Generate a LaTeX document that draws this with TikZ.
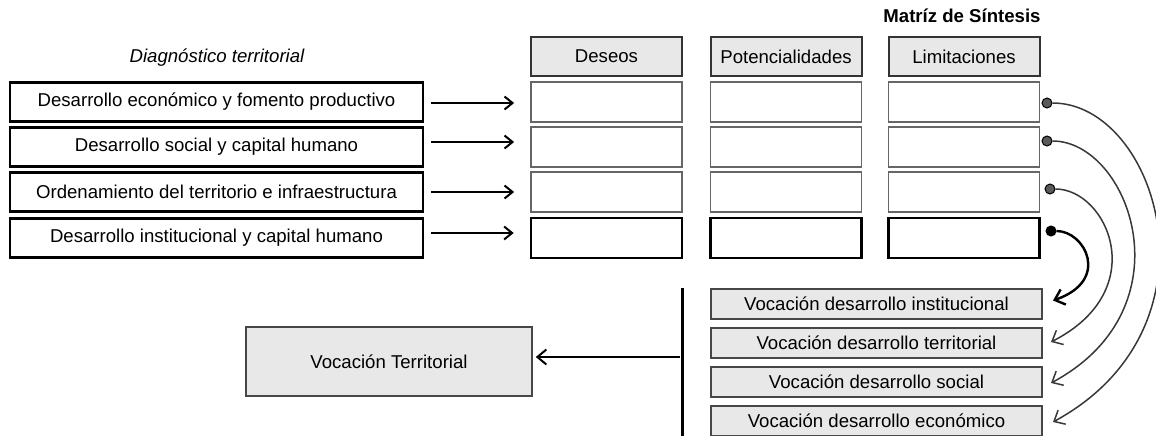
\documentclass[tikz,border=0pt]{standalone}
\usepackage{fontspec}
\setmainfont{Liberation Sans}
\usetikzlibrary{arrows.meta}
\begin{document}
\begin{tikzpicture}[x=1pt,y=-1pt,
  txt/.style={font=\fontsize{18.6}{22}\selectfont},
  leftbox/.style={draw=black, line width=2.6pt, minimum width=413pt, minimum height=39pt, inner sep=0pt, txt},
  headbox/.style={draw=black!80, fill=black!9, line width=2pt, minimum width=151pt, minimum height=39pt, inner sep=0pt, txt},
  cellbox/.style={draw=black!60, line width=1.8pt, fill=white, minimum width=151pt, minimum height=40pt, inner sep=0pt},
  lastcell/.style={draw=black, line width=2.6pt, fill=white, minimum width=151pt, minimum height=40pt, inner sep=0pt},
  vocbox/.style={draw=black!72, fill=black!9, line width=2pt, minimum width=331pt, minimum height=30pt, inner sep=0pt, txt},
  dot/.style={circle, draw=black, fill=black!65, line width=1pt, minimum size=10pt, inner sep=0pt},
  feed/.style={line width=2pt, -{Straight Barb[length=8pt,width=13pt,line width=2pt]}},
  link/.style={draw=black!78, line width=1.5pt, -{Straight Barb[length=9pt,width=16pt,line width=1.5pt]}},
  boldlink/.style={draw=black, line width=2.4pt, -{Straight Barb[length=9pt,width=16pt,line width=2.4pt]}}
]
\useasboundingbox (0,0) rectangle (1156,436);

% titles
\node[txt, font=\fontsize{18.6}{22}\selectfont\itshape] (diag) at (217,58) {Diagnóstico territorial};
\node[txt, font=\fontsize{18.6}{22}\selectfont\bfseries] (matriz) at (962,16) {Matríz de Síntesis};

% diagnostic areas
\node[leftbox] (L1) at (216.5,102) {Desarrollo económico y fomento productivo};
\node[leftbox] (L2) at (216.5,147) {Desarrollo social y capital humano};
\node[leftbox] (L3) at (216.5,192) {Ordenamiento del territorio e infraestructura};
\node[leftbox] (L4) at (216.5,238) {Desarrollo institucional y capital humano};

% synthesis matrix headers
\node[headbox] (HD) at (606.5,56.5) {Deseos};
\node[headbox] (HP) at (786,56.5) {Potencialidades};
\node[headbox] (HL) at (964,56.5) {Limitaciones};

% matrix cells
\foreach \r/\y in {1/102,2/147,3/192}{
  \node[cellbox] (D\r) at (606.5,\y) {};
  \node[cellbox] (P\r) at (786,\y) {};
  \node[cellbox] (M\r) at (964,\y) {};
}
\node[lastcell] (D4) at (606.5,238) {};
\node[lastcell] (P4) at (786,238) {};
\node[lastcell] (M4) at (964,238) {};

% inputs from the diagnosis to the matrix
\draw[feed] ([shift={(7,1)}]L1.east) -- ([shift={(-16,1)}]D1.west);
\draw[feed] ([shift={(7,-5)}]L2.east) -- ([shift={(-16,-5)}]D2.west);
\draw[feed] ([shift={(7,0)}]L3.east) -- ([shift={(-16,0)}]D3.west);
\draw[feed] ([shift={(7,-5)}]L4.east) -- ([shift={(-16,-5)}]D4.west);

% vocation boxes
\node[vocbox] (VI) at (876.5,303.5) {Vocación desarrollo institucional};
\node[vocbox] (VT) at (876.5,343) {Vocación desarrollo territorial};
\node[vocbox] (VS) at (876.5,382) {Vocación desarrollo social};
\node[vocbox] (VE) at (876.5,420.5) {Vocación desarrollo económico};

% territorial vocation
\node[draw=black!72, fill=black!9, line width=1.6pt, minimum width=286pt, minimum height=69pt, inner sep=0pt, txt] (VTer) at (389,361.5) {Vocación Territorial};

% collecting bar and output arrow
\coordinate (bartop) at (682,288);
\coordinate (barbot) at (682,436);
\draw[line width=3pt] (bartop) -- (barbot);
\draw[line width=2pt, -{Straight Barb[length=9pt,width=15pt,line width=2pt]}]
  ([shift={(-2,-4.5)}]bartop |- VTer.east) -- ([shift={(3,-4.5)}]VTer.east);

% limitation dots
\node[dot] (K1) at (1047,103) {};
\node[dot] (K2) at (1047,141) {};
\node[dot] (K3) at (1050,189) {};
\node[dot, fill=black] (K4) at (1051,231) {};

% arrow tips beside the vocation boxes
\coordinate (tI) at ([shift={(10,-3)}]VI.east);
\coordinate (tT) at ([shift={(8,-1)}]VT.east);
\coordinate (tS) at ([shift={(8,1)}]VS.east);
\coordinate (tE) at ([shift={(10,1.5)}]VE.east);

% curved links from the matrix to the vocations
\draw[link] (K1) .. controls +(110,0) and +(175,-95) .. (tE);
\draw[link] (K2) .. controls +(82,0) and +(140,-75) .. (tS);
\draw[link] (K3) .. controls +(57,0) and +(102,-52) .. (tT);
\draw[boldlink] (K4) .. controls +(34,0) and +(58,-20) .. (tI);
\end{tikzpicture}
\end{document}
